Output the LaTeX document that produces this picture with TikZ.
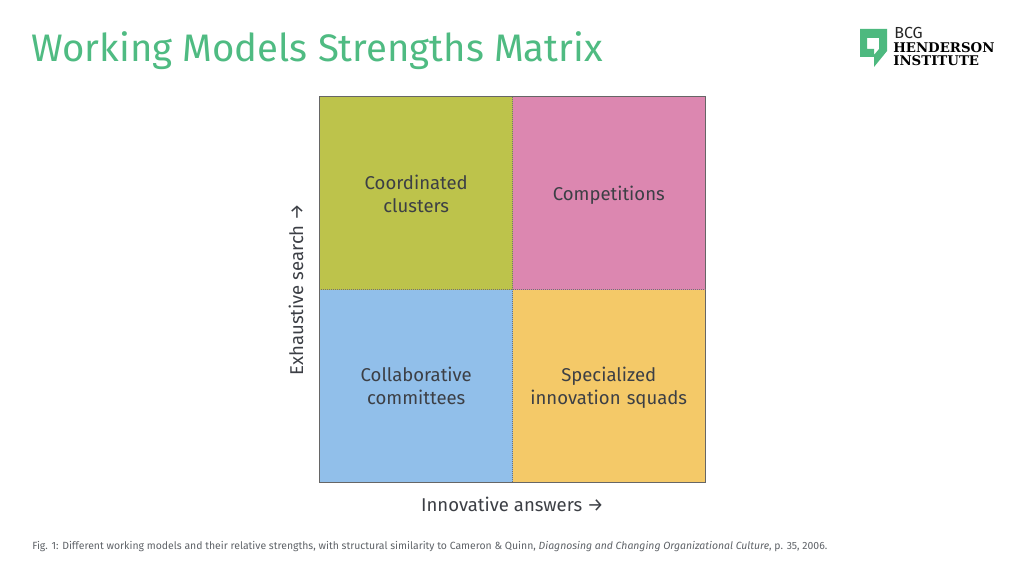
\documentclass[tikz,border=0pt]{standalone}
\usepackage{fontspec}
\setmainfont{Fira Sans}
\newfontfamily\logofont{DejaVu Serif}
\usetikzlibrary{calc}
\usetikzlibrary{matrix}
\usetikzlibrary{positioning}
\definecolor{titlegreen}{HTML}{4FBB82}
\definecolor{logogreen}{HTML}{4DB97F}
\definecolor{cellolive}{HTML}{BDC34B}
\definecolor{cellpink}{HTML}{DC87B0}
\definecolor{cellblue}{HTML}{91BFEA}
\definecolor{cellyellow}{HTML}{F4C968}
\definecolor{labelgray}{HTML}{3C3F45}
\definecolor{notegray}{HTML}{5F6368}
\newcommand{\topstrut}{\strut\rule{0pt}{16.6pt}}
\tikzset{
  cell/.style={minimum width=144.4pt,minimum height=144.4pt,inner sep=0pt,outer sep=0pt,align=center,text width=130pt,font=\fontsize{13.9}{17.25}\selectfont,text=labelgray},
  axislabel/.style={font=\fontsize{13.9}{17}\selectfont,text=labelgray,inner sep=0pt},
  logoline/.style={anchor=base west,inner sep=0pt,font=\logofont\bfseries\fontsize{10}{12}\selectfont},
}
\begin{document}
\begin{tikzpicture}[x=0.75pt,y=-0.75pt]
\useasboundingbox[fill=white] (0,0) rectangle (1024,574);

\node[anchor=base west,inner sep=0pt,text=titlegreen,font=\fontsize{28.75}{30}\selectfont] (title) at (31,62) {Working Models Strengths Matrix};

\matrix[row sep=0pt,column sep=0pt,inner sep=0pt,anchor=center] (m) at (512.5,289.5) {
\node[cell,fill=cellolive] (olive) {\topstrut Coordinated\\\strut clusters}; & \node[cell,fill=cellpink] (pink) {\topstrut Competitions};\\
\node[cell,fill=cellblue] (blue) {\topstrut Collaborative\\\strut committees}; & \node[cell,fill=cellyellow] (yellow) {\topstrut Specialized\\\strut innovation squads};\\
};

\draw[color=black!60,line width=0.6pt] (m.north east) rectangle (m.south west);
\draw[color=black!55,densely dotted,line width=0.5pt] (m.north) -- (m.south);
\draw[color=black!55,densely dotted,line width=0.5pt] (m.east) -- (m.west);

\node[axislabel,below=10.5pt of m.south] (xaxis) {Innovative answers →};
\node[axislabel,left=12pt of m.west,rotate=90,anchor=south] (yaxis) {Exhaustive search →};

\node[anchor=base west,inner sep=0pt,text=notegray,font=\fontsize{7.83}{9}\selectfont] (note) at (32,549) {Fig. 1: Different working models and their relative strengths, with structural similarity to Cameron \& Quinn, \textit{Diagnosing and Changing Organizational Culture}, p. 35, 2006.};

% logo
\fill[logogreen,even odd rule] (860,29) -- (887,29) -- (887,51) -- (874,67) -- (874,57) -- (860,57) -- cycle
  (867,38) -- (879,38) -- (879,49) -- (874,55) -- (874,49) -- (867,49) -- cycle;
\node[anchor=base west,inner sep=0pt,font=\fontsize{12}{12}\selectfont,text=black!85] (bcg) at (894,38.5) {BCG};
\node[logoline] (henderson) at (893,53) {HENDERSON};
\node[logoline] (institute) at (893,66) {INSTITUTE};
\end{tikzpicture}
\end{document}
